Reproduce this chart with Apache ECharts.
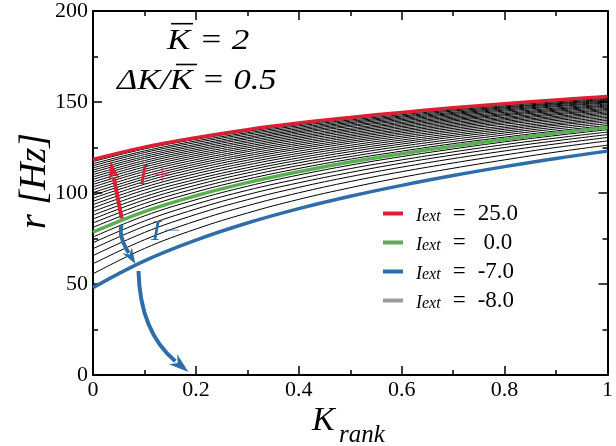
<!DOCTYPE html>
<html>
<head>
<meta charset="utf-8">
<script src="https://cdn.jsdelivr.net/npm/echarts@6/dist/echarts.min.js"></script>
<style>
  html, body { margin: 0; padding: 0; background: #fff; }
  #chart { width: 616px; height: 446px; }
</style>
</head>
<body>
<div id="chart"></div>
<script>
// Firing rate r versus rank connectivity K_rank, one curve per external input I_ext.
const kRank = [0, 0.1, 0.2, 0.3, 0.4, 0.5, 0.6, 0.7, 0.8, 0.9, 1];

// Highlighted inputs (legend order)
const iExtLabels = ['25.0', ' 0.0', '-7.0', '-8.0'];
const rRed   = [118.4, 125.2, 130.4, 134.8, 138.4, 141.5, 144.3, 146.8, 149.1, 151.1, 153.0]; // I_ext = 25
const rGreen = [78.5, 89.8, 98.5, 105.7, 111.7, 117.0, 121.6, 125.7, 129.4, 132.9, 136.0];   // I_ext = 0
const rBlue  = [48.0, 62.7, 74.1, 83.5, 91.4, 98.2, 104.2, 109.6, 114.5, 119.0, 123.0];      // I_ext = -7
const rGray  = [];                                                                          // I_ext = -8 (silent)

// Intermediate inputs drawn as thin black curves
const iFamily = [-6, -5, -4, -3, -2, -1, 1, 2, 3, 4, 5, 6, 7, 8, 9, 10, 11, 12,
                 13, 14, 15, 16, 17, 18, 19, 20, 21, 22, 23, 24];
const rFamily = [
  [55.6, 69.5, 80.2, 89.0, 96.5, 102.9, 108.6, 113.6, 118.2, 122.5, 126.3],
  [61.1, 74.3, 84.6, 93.0, 100.1, 106.3, 111.7, 116.5, 120.9, 125.0, 128.6],
  [65.6, 78.3, 88.2, 96.3, 103.1, 109.0, 114.2, 118.9, 123.1, 127.0, 130.5],
  [69.4, 81.7, 91.2, 99.1, 105.6, 111.3, 116.4, 120.9, 125.0, 128.7, 132.1],
  [72.7, 84.6, 93.9, 101.5, 107.8, 113.4, 118.2, 122.6, 126.6, 130.2, 133.5],
  [75.8, 87.4, 96.3, 103.7, 109.9, 115.3, 120.0, 124.2, 128.1, 131.6, 134.8],
  [81.1, 92.1, 100.6, 107.6, 113.5, 118.6, 123.0, 127.1, 130.7, 134.1, 137.1],
  [83.5, 94.2, 102.5, 109.3, 115.1, 120.0, 124.4, 128.3, 131.9, 135.2, 138.1],
  [85.7, 96.2, 104.3, 111.0, 116.6, 121.4, 125.7, 129.5, 133.0, 136.2, 139.1],
  [87.8, 98.0, 106.0, 112.5, 118.0, 122.7, 126.9, 130.7, 134.0, 137.2, 140.0],
  [89.8, 99.8, 107.5, 113.9, 119.3, 123.9, 128.0, 131.7, 135.0, 138.0, 140.8],
  [91.8, 101.6, 109.1, 115.4, 120.6, 125.1, 129.1, 132.7, 135.9, 138.9, 141.6],
  [93.6, 103.2, 110.6, 116.7, 121.8, 126.2, 130.2, 133.7, 136.8, 139.8, 142.4],
  [95.4, 104.8, 112.0, 118.0, 123.0, 127.4, 131.2, 134.6, 137.8, 140.6, 143.2],
  [97.1, 106.3, 113.4, 119.2, 124.2, 128.4, 132.2, 135.5, 138.6, 141.4, 143.9],
  [98.7, 107.7, 114.7, 120.4, 125.2, 129.4, 133.1, 136.4, 139.4, 142.1, 144.6],
  [100.2, 109.0, 115.9, 121.5, 126.3, 130.4, 134.0, 137.2, 140.2, 142.9, 145.3],
  [101.8, 110.4, 117.1, 122.7, 127.3, 131.3, 134.8, 138.0, 140.9, 143.5, 145.9],
  [103.3, 111.8, 118.3, 123.7, 128.3, 132.2, 135.7, 138.8, 141.6, 144.2, 146.5],
  [104.7, 113.0, 119.5, 124.8, 129.3, 133.1, 136.5, 139.6, 142.4, 144.9, 147.2],
  [106.1, 114.3, 120.6, 125.8, 130.2, 134.0, 137.3, 140.3, 143.0, 145.5, 147.8],
  [107.5, 115.5, 121.7, 126.8, 131.1, 134.8, 138.1, 141.0, 143.6, 146.1, 148.3],
  [108.8, 116.7, 122.8, 127.8, 132.0, 135.6, 138.8, 141.7, 144.3, 146.7, 148.9],
  [110.1, 117.8, 123.8, 128.7, 132.9, 136.5, 139.6, 142.4, 145.0, 147.4, 149.5],
  [111.4, 119.0, 124.8, 129.7, 133.7, 137.2, 140.3, 143.1, 145.6, 147.9, 150.0],
  [112.6, 120.0, 125.8, 130.5, 134.5, 138.0, 141.0, 143.7, 146.2, 148.5, 150.5],
  [113.8, 121.1, 126.7, 131.4, 135.3, 138.7, 141.7, 144.3, 146.8, 149.0, 151.0],
  [115.0, 122.2, 127.7, 132.3, 136.1, 139.4, 142.3, 145.0, 147.3, 149.5, 151.5],
  [116.1, 123.1, 128.6, 133.1, 136.9, 140.1, 143.0, 145.6, 147.9, 150.1, 152.0],
  [117.3, 124.2, 129.5, 133.9, 137.6, 140.8, 143.7, 146.2, 148.5, 150.6, 152.5]
];

// Axis ticks
const xTickValues = [0, 0.2, 0.4, 0.6, 0.8, 1];
const xTickLabels = ['0', '0.2', '0.4', '0.6', '0.8', '1'];
const yTickValues = [0, 50, 100, 150, 200];
const yTickLabels = ['0', '50', '100', '150', '200'];

const SERIF = 'Liberation Serif';
const RED = '#dc1f33';
const GREEN = '#5aae52';
const BLUE = '#2e6da8';
const GRAY = '#9a9a9a';

const chart = echarts.init(document.getElementById('chart'), null, { renderer: 'canvas' });

function pairs(vals) {
  return kRank.map((k, i) => [k, vals[i]]);
}
function tickLabel(values, labels) {
  return v => {
    const i = values.findIndex(t => Math.abs(t - v) < 1e-9);
    return i >= 0 ? labels[i] : '';
  };
}

const tickStyle = { color: '#000', width: 1.5 };
function xAxisDef(pos, showLabels) {
  return {
    type: 'value', position: pos, min: 0, max: 1, interval: 0.2,
    axisLine: { show: true, onZero: false, lineStyle: { color: '#000', width: 2 } },
    axisTick: { show: true, inside: true, length: 9, lineStyle: tickStyle },
    minorTick: { show: true, splitNumber: 2, length: 5, lineStyle: tickStyle },
    splitLine: { show: false }, minorSplitLine: { show: false },
    axisLabel: {
      show: showLabels, margin: 4, fontFamily: SERIF, fontSize: 22, color: '#000',
      formatter: tickLabel(xTickValues, xTickLabels)
    }
  };
}
function yAxisDef(pos, showLabels) {
  return {
    type: 'value', position: pos, min: 0, max: 200, interval: 50,
    axisLine: { show: true, onZero: false, lineStyle: { color: '#000', width: 2 } },
    axisTick: { show: true, inside: true, length: 9, lineStyle: tickStyle },
    minorTick: { show: true, splitNumber: 2, length: 5, lineStyle: tickStyle },
    splitLine: { show: false }, minorSplitLine: { show: false },
    axisLabel: {
      show: showLabels, margin: 5, fontFamily: SERIF, fontSize: 22, color: '#000',
      formatter: tickLabel(yTickValues, yTickLabels)
    }
  };
}

const series = [];
iFamily.forEach((I, idx) => {
  series.push({
    name: 'I = ' + I, type: 'line', data: pairs(rFamily[idx]),
    showSymbol: false, smooth: 0.4, silent: true, z: 2,
    lineStyle: { color: '#000', width: 1 }
  });
});
const highlighted = [
  { vals: rBlue, color: BLUE, label: iExtLabels[2] },
  { vals: rGreen, color: GREEN, label: iExtLabels[1] },
  { vals: rRed, color: RED, label: iExtLabels[0] },
  { vals: rGray, color: GRAY, label: iExtLabels[3] }
];
highlighted.forEach(h => {
  series.push({
    name: 'Iext=' + h.label, type: 'line', data: h.vals.length ? pairs(h.vals) : [],
    showSymbol: false, smooth: 0.4, silent: true, z: 4,
    itemStyle: { color: h.color },
    lineStyle: { color: h.color, width: 3.5 }
  });
});

// Curved arrows (quadratic bezier with a filled head)
function arrow(p0, c, tip, color, lw, hl, hw) {
  const dx = tip[0] - c[0], dy = tip[1] - c[1];
  const L = Math.hypot(dx, dy);
  const ux = dx / L, uy = dy / L, px = -uy, py = ux;
  const bx = tip[0] - ux * hl, by = tip[1] - uy * hl;
  return [
    {
      type: 'bezierCurve', z: 50, silent: true,
      shape: { x1: p0[0], y1: p0[1], x2: bx + ux * 3, y2: by + uy * 3, cpx1: c[0], cpy1: c[1] },
      style: { stroke: color, lineWidth: lw, fill: null }
    },
    {
      type: 'polygon', z: 51, silent: true,
      shape: { points: [
        tip,
        [bx + px * hw / 2, by + py * hw / 2],
        [bx + ux * hl * 0.3, by + uy * hl * 0.3],
        [bx - px * hw / 2, by - py * hw / 2]
      ] },
      style: { fill: color, stroke: null }
    }
  ];
}

function txt(x, y, text, size, opts, scaleX) {
  return {
    type: 'text', z: 60, silent: true, x: x, y: y, scaleX: scaleX || 1,
    style: Object.assign({
      x: 0, y: 0, text: text, fill: '#000',
      fontFamily: SERIF, fontStyle: 'italic', fontSize: size,
      align: 'left', verticalAlign: 'middle'
    }, opts || {})
  };
}
function bar(x1, x2, y) {
  return { type: 'line', z: 60, silent: true, shape: { x1: x1, y1: y, x2: x2, y2: y },
           style: { stroke: '#000', lineWidth: 1.6 } };
}

const graphic = [
  // parameter annotation
  txt(167, 41, 'K = 2', 30, null, 1.17),
  bar(171, 193, 23.7),
  txt(117, 81, '\u0394K/K = 0.5', 30, null, 1.15),
  bar(176, 197, 64.5),
  // axis titles
  {
    type: 'text', z: 60, silent: true, x: 35, y: 181, rotation: Math.PI / 2,
    style: { x: 0, y: 0, text: 'r [Hz]', fill: '#000', fontFamily: SERIF, fontStyle: 'italic',
             fontSize: 38, align: 'center', verticalAlign: 'middle' }
  },
  txt(312, 421, 'K', 34),
  txt(339, 435, 'rank', 25),
  // input labels
  txt(138, 176, 'I', 30, { fill: RED }),
  txt(152, 176, '+', 30, { fill: 'rgba(220,31,51,0.55)' }),
  txt(151, 232, 'I', 30, { fill: BLUE }),
  txt(162, 232, '\u2212', 30, { fill: 'rgba(46,109,168,0.55)' })
].concat(
  arrow([121.7, 218.3], [116.1, 189.4], [110.5, 160.5], RED, 4, 20, 11),
  arrow([121.7, 225], [118, 235.5], [135.5, 264], BLUE, 4, 16, 11),
  arrow([138.5, 271], [140, 332], [188.5, 372], BLUE, 4, 20, 13)
);

chart.setOption({
  animation: false,
  backgroundColor: '#fff',
  grid: { left: 93, right: 2, top: 11, bottom: 71, containLabel: false },
  xAxis: [xAxisDef('bottom', true), xAxisDef('top', false)],
  yAxis: [yAxisDef('left', true), yAxisDef('right', false)],
  legend: {
    data: iExtLabels.map(l => 'Iext=' + l),
    orient: 'vertical', left: 383, top: 202, padding: 0,
    itemWidth: 20, itemHeight: 4, itemGap: 6, icon: 'rect',
    selectedMode: false,
    formatter: name => {
      const v = name.split('=')[1];
      return '{i|I}{s|ext}{e|=}{v|' + v + '}';
    },
    textStyle: {
      color: '#000', fontFamily: SERIF,
      rich: {
        i: { fontFamily: SERIF, fontStyle: 'italic', fontSize: 18, lineHeight: 18, verticalAlign: 'bottom', padding: [0, 0, 0, 8] },
        s: { fontFamily: SERIF, fontStyle: 'italic', fontSize: 16, lineHeight: 16, verticalAlign: 'bottom' },
        e: { fontFamily: SERIF, fontSize: 23, lineHeight: 23, width: 37, align: 'center', verticalAlign: 'bottom' },
        v: { fontFamily: SERIF, fontSize: 23, lineHeight: 23, verticalAlign: 'bottom' }
      }
    }
  },
  graphic: graphic,
  series: series
});
</script>
</body>
</html>
